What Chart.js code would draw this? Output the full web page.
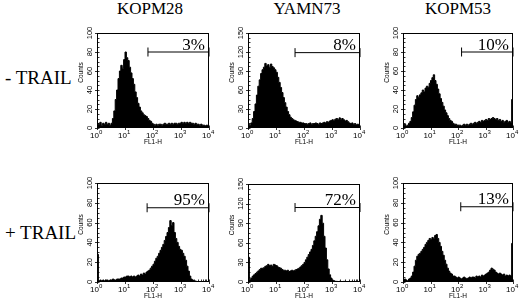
<!DOCTYPE html>
<html>
<head>
<meta charset="utf-8">
<script src="https://cdn.jsdelivr.net/npm/chart.js@4.4.1/dist/chart.umd.min.js"></script>
<style>
  html, body { margin: 0; padding: 0; background: #fff; }
  #fig { position: relative; width: 520px; height: 302px; overflow: hidden; background: #fff; }
  #fig canvas { position: absolute; }
  .lbl { position: absolute; font-family: "Liberation Serif", "Times New Roman", serif; color: #000; white-space: nowrap; line-height: 1; }
  .col { font-size: 17px; transform: translateX(-50%); top: 0px; }
  .row { font-size: 19px; left: 5px; }
</style>
</head>
<body>
<div id="fig"></div>
<script>
// FL1-H channel positions (log10 of fluorescence), one bin per entry
const channels = [0,0.05,0.1,0.15,0.2,0.25,0.3,0.35,0.4,0.45,0.5,0.55,0.6,0.65,0.7,0.75,0.8,0.85,0.9,0.95,
  1,1.05,1.1,1.15,1.2,1.25,1.3,1.35,1.4,1.45,1.5,1.55,1.6,1.65,1.7,1.75,1.8,1.85,1.9,1.95,
  2,2.05,2.1,2.15,2.2,2.25,2.3,2.35,2.4,2.45,2.5,2.55,2.6,2.65,2.7,2.75,2.8,2.85,2.9,2.95,
  3,3.05,3.1,3.15,3.2,3.25,3.3,3.35,3.4,3.45,3.5,3.55,3.6,3.65,3.7,3.75,3.8,3.85,3.9,3.95,4];

// counts per channel
const kopm28Minus = [5,4,6,3,5,4,6,4,5,3,5, 10,18,30,40,52,60,66,63,72,80, 74,71,64,58,52,46,38,32,26,22,
  18,16,14,13,12,10,8,7,5,4, 3,4,3,4,4,3,4,5,4,4, 5,4,5,4,5,5,4,5,5,6, 5,6,5,6,5,6,5,5,4,5, 4,4,3,4,3,3,2,3,2,2];
const yamn73Minus = [6,4,8,15,26,38,52,66,76,86,92, 96,102,98,100,96,101,97,95,92,88, 80,72,64,56,48,40,33,26,21,17,
  15,13,12,11,10,9,9,8,8,7, 7,6,7,8,6,7,7,8,7,6, 8,7,8,9,8,10,9,11,12,13, 12,14,15,13,16,14,15,13,11,12, 10,8,7,8,6,7,5,6,5,4];
const kopm53Minus = [3,4,2,3,5,7,11,17,24,30,34, 32,35,37,40,38,42,44,43,47,50, 53,56,50,46,41,36,31,27,23,19,
  16,13,10,8,7,5,4,4,3,3, 3,2,3,4,3,4,3,4,5,4, 5,6,5,6,7,6,8,7,8,9, 8,10,9,10,11,10,9,10,8,9, 7,8,6,7,8,6,7,6,30,30];
const kopm28Plus = [28,1,2,1,2,1,2,2,1,2,2, 3,2,2,3,3,3,4,4,5,5, 6,6,5,6,5,6,5,6,7,6,
  8,7,9,8,10,11,12,14,16,18, 21,24,26,29,32,35,38,42,46,50, 55,62,57,60,50,44,40,36,33,32, 29,26,22,16,11,6,3,2,1,1, 0,0,0,0,0,0,0,0,0,0];
const yamn73Plus = [38,4,6,9,11,13,15,17,19,21,21, 22,24,25,27,25,26,24,27,26,25, 23,22,21,19,18,18,17,18,16,17,
  18,17,18,19,20,21,23,25,27,30, 34,38,42,46,50,56,63,70,77,86, 96,102,90,70,52,34,20,11,6,3, 2,1,1,0,1,0,0,1,0,0, 0,0,0,1,0,0,0,0,0,0];
const kopm53Plus = [2,3,2,1,3,4,6,10,16,22,26, 28,29,31,33,35,38,40,42,44,43, 45,44,47,48,44,40,36,31,27,22,
  18,14,11,9,8,6,6,5,4,5, 4,3,4,5,4,3,4,5,4,5, 5,4,6,5,6,5,7,6,7,8, 9,10,12,14,13,12,10,9,8,9, 8,7,8,6,7,6,7,6,39,39];

const cellLines = ['KOPM28', 'YAMN73', 'KOPM53'];
const treatments = ['- TRAIL', '+ TRAIL'];
const yMax = [100, 150, 100, 100, 150, 100];
const gateStart = [1.82, 1.68, 2.13, 1.79, 1.68, 2.1];   // log10 FL1-H where the marker starts
const gateLevel = [80, 119, 80, 75, 114, 76];            // counts level of the marker
const percentPositive = ['3%', '8%', '10%', '95%', '72%', '13%'];

const histograms = [kopm28Minus, yamn73Minus, kopm53Minus, kopm28Plus, yamn73Plus, kopm53Plus];

// plot frames on the page
const boxes = [
  {l: 97, t: 33, w: 112, h: 95}, {l: 248, t: 33, w: 112, h: 95}, {l: 403, t: 33, w: 110, h: 95},
  {l: 97, t: 183, w: 112, h: 99}, {l: 248, t: 184, w: 112, h: 98}, {l: 403, t: 183, w: 110, h: 99}
];
const colCenters = [150, 307, 458];
const rowTops = [68, 223];

const fig = document.getElementById('fig');
cellLines.forEach((name, i) => {
  const d = document.createElement('div');
  d.className = 'lbl col';
  d.style.left = colCenters[i] + 'px';
  d.textContent = name;
  fig.appendChild(d);
});
treatments.forEach((name, i) => {
  const d = document.createElement('div');
  d.className = 'lbl row';
  d.style.top = rowTops[i] + 'px';
  d.textContent = name;
  fig.appendChild(d);
});

// frame, log ticks, rotated count labels and the percent text
const flowAxes = {
  id: 'flowAxes',
  afterDraw(chart) {
    const o = chart.options.plugins.flowAxes;
    const a = chart.chartArea, c = chart.ctx;
    const xs = chart.scales.x, ys = chart.scales.y;
    c.save();
    c.strokeStyle = '#000';
    c.fillStyle = '#000';
    c.lineWidth = 1;
    c.strokeRect(a.left + 0.5, a.top + 0.5, a.right - a.left - 1, a.bottom - a.top - 1);

    c.beginPath();
    for (let k = 0; k <= 4; k++) {
      for (let m = 1; m <= 9; m++) {
        if (k === 4 && m > 1) break;
        const px = Math.round(xs.getPixelForValue(m * Math.pow(10, k))) + 0.5;
        c.moveTo(px, a.bottom - 2.5);
        c.lineTo(px, a.bottom + (m === 1 ? 2 : 0));
      }
    }
    for (let i = 0; i <= 20; i++) {
      const py = Math.round(ys.getPixelForValue(i * o.yMax / 20)) + 0.5;
      c.moveTo(a.left + 2.5, py);
      c.lineTo(a.left - (i % 4 === 0 ? 2 : 0), py);
    }
    c.lineWidth = 0.8;
    c.stroke();

    // y labels, rotated
    c.font = '7.5px "Liberation Sans", Arial, sans-serif';
    c.textAlign = 'center';
    c.textBaseline = 'middle';
    for (let i = 0; i <= 20; i += 4) {
      const v = i * o.yMax / 20;
      c.save();
      c.translate(a.left - 7, ys.getPixelForValue(v));
      c.rotate(-Math.PI / 2);
      c.fillText(String(v), 0, 0);
      c.restore();
    }
    c.save();
    c.font = '6.5px "Liberation Sans", Arial, sans-serif';
    c.translate(a.left - 16, (a.top + a.bottom) / 2 - 8);
    c.rotate(-Math.PI / 2);
    c.fillText('Counts', 0, 0);
    c.restore();

    // x labels 10^k
    for (let k = 0; k <= 4; k++) {
      const px = xs.getPixelForValue(Math.pow(10, k));
      c.font = '8px "Liberation Sans", Arial, sans-serif';
      c.textAlign = 'right';
      c.textBaseline = 'alphabetic';
      c.fillText('10', px + 2, a.bottom + 10);
      c.font = '6px "Liberation Sans", Arial, sans-serif';
      c.textAlign = 'left';
      c.fillText(String(k), px + 2, a.bottom + 6);
    }
    c.font = '6.5px "Liberation Sans", Arial, sans-serif';
    c.textAlign = 'center';
    c.fillText('FL1-H', (a.left + a.right) / 2, a.bottom + 16);

    c.font = '17px "Liberation Serif", "Times New Roman", serif';
    c.textAlign = 'right';
    c.fillText(o.label, a.right - 4, ys.getPixelForValue(o.gateLevel) - 2.5);
    c.restore();
  }
};

boxes.forEach((b, i) => {
  const W = b.w + 24 + 8, H = b.h + 6 + 19;
  const cv = document.createElement('canvas');
  cv.width = W; cv.height = H;
  cv.style.left = (b.l - 24) + 'px';
  cv.style.top = (b.t - 6) + 'px';
  cv.style.width = W + 'px';
  cv.style.height = H + 'px';
  fig.appendChild(cv);

  const points = channels.map((e, j) => ({x: Math.pow(10, e), y: histograms[i][j]}));
  const gate = [{x: Math.pow(10, gateStart[i]), y: gateLevel[i]}, {x: 10000, y: gateLevel[i]}];

  new Chart(cv.getContext('2d'), {
    type: 'line',
    data: {
      datasets: [
        {
          label: 'marker',
          data: gate,
          borderColor: '#000',
          borderWidth: 1,
          pointStyle: 'line',
          rotation: 90,
          pointRadius: 4.5,
          pointBorderWidth: 1,
          pointBorderColor: '#000',
          fill: false,
          clip: false
        },
        {
          label: 'FL1-H',
          data: points,
          stepped: true,
          fill: 'origin',
          borderColor: '#000',
          backgroundColor: '#000',
          borderWidth: 1,
          pointRadius: 0
        }
      ]
    },
    options: {
      responsive: false,
      animation: false,
      events: [],
      layout: { padding: { top: 6, right: 8, left: 0, bottom: 0 } },
      plugins: {
        legend: { display: false },
        tooltip: { enabled: false },
        flowAxes: { yMax: yMax[i], gateLevel: gateLevel[i], label: percentPositive[i] }
      },
      scales: {
        x: {
          type: 'logarithmic', min: 1, max: 10000,
          ticks: { display: false }, grid: { display: false }, border: { display: false },
          afterFit(s) { s.height = 19; }
        },
        y: {
          min: 0, max: yMax[i],
          ticks: { display: false }, grid: { display: false }, border: { display: false },
          afterFit(s) { s.width = 24; }
        }
      }
    },
    plugins: [flowAxes]
  });
});
</script>
</body>
</html>
